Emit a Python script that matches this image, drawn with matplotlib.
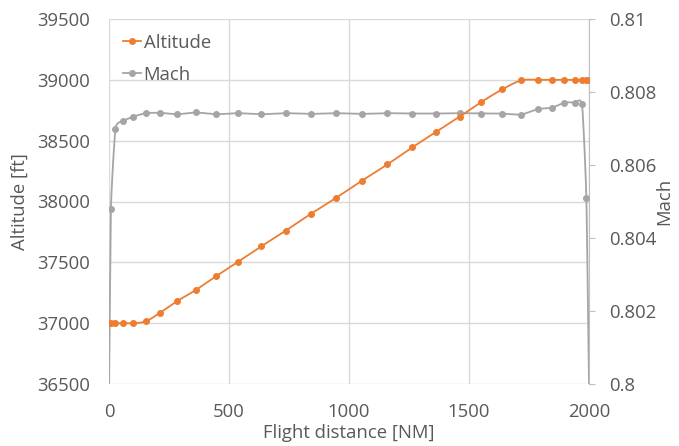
import numpy as np
import matplotlib
matplotlib.use("Agg")
import matplotlib.pyplot as plt
from matplotlib.lines import Line2D

distance = [0, 8, 27, 57, 99, 153, 213, 283, 361, 447, 536, 634, 736, 840, 947,
            1054, 1160, 1264, 1362, 1461, 1551, 1638, 1717, 1786, 1847, 1897,
            1940, 1971, 1989, 2000]
altitude = [37000, 37000, 37000, 37000, 37000, 37015, 37086, 37180, 37272, 37387,
            37502, 37631, 37760, 37897, 38031, 38171, 38305, 38445, 38571, 38697,
            38817, 38921, 38995, 39000, 39000, 39000, 39000, 39000, 39000, 39000]
mach = [0.8000, 0.8048, 0.8070, 0.8072, 0.80732, 0.80742, 0.80743, 0.80739,
        0.80744, 0.80739, 0.80742, 0.80739, 0.80742, 0.80740, 0.80742, 0.80740,
        0.80742, 0.80741, 0.80741, 0.80742, 0.80741, 0.80741, 0.80738, 0.80753,
        0.80757, 0.80771, 0.80771, 0.80766, 0.8051, 0.8000]

x_ticks = [0, 500, 1000, 1500, 2000]
alt_ticks = [36500, 37000, 37500, 38000, 38500, 39000, 39500]
mach_ticks = [0.800, 0.802, 0.804, 0.806, 0.808, 0.810]
mach_labels = ["0.8", "0.802", "0.804", "0.806", "0.808", "0.81"]

ORANGE = "#ED7D31"
GREY = "#A5A5A5"
TXT = "#595959"
GRID = "#D9D9D9"

plt.rcParams['font.family'] = ['Open Sans', 'DejaVu Sans']
FS = 13.3


def smooth(xs, ys, n=24, k=6.0):
    """Excel-like smoothed line (Bezier through the points), in data space."""
    xs = np.asarray(xs, float); ys = np.asarray(ys, float)
    px = np.concatenate([[xs[0]], xs, [xs[-1]]])
    py = np.concatenate([[ys[0]], ys, [ys[-1]]])
    ox, oy = [], []
    t = np.linspace(0, 1, n, endpoint=False)
    for i in range(1, len(px) - 2):
        p0x, p1x, p2x, p3x = px[i-1], px[i], px[i+1], px[i+2]
        p0y, p1y, p2y, p3y = py[i-1], py[i], py[i+1], py[i+2]
        c1x = p1x + (p2x - p0x) / k; c1y = p1y + (p2y - p0y) / k
        c2x = p2x - (p3x - p1x) / k; c2y = p2y - (p3y - p1y) / k
        bx = (1-t)**3*p1x + 3*(1-t)**2*t*c1x + 3*(1-t)*t**2*c2x + t**3*p2x
        by = (1-t)**3*p1y + 3*(1-t)**2*t*c1y + 3*(1-t)*t**2*c2y + t**3*p2y
        ox.extend(bx); oy.extend(by)
    ox.append(xs[-1]); oy.append(ys[-1])
    return np.array(ox), np.array(oy)


fig = plt.figure(figsize=(6.79, 4.46), dpi=100)
rect = [109/679, 1-384/446, 480/679, 365/446]

# background axes holding only the grid
ax_bg = fig.add_axes(rect)
ax_bg.set_xlim(0, 2000)
ax_bg.set_ylim(36500, 39500)
ax_bg.set_xticks(x_ticks)
ax_bg.set_yticks(alt_ticks)
ax_bg.grid(True, color=GRID, linewidth=1)
ax_bg.tick_params(length=0, labelleft=False, labelbottom=False)
for s in ax_bg.spines.values():
    s.set_visible(False)
ax_bg.set_zorder(0)

# main axes (altitude, left) and twin (Mach, right)
ax = fig.add_axes(rect)
ax2 = ax.twinx()
ax.set_zorder(2)
ax2.set_zorder(1)
ax.patch.set_visible(False)
ax2.patch.set_visible(False)

ax.set_xlim(0, 2000)
ax.set_ylim(36500, 39500)
ax2.set_ylim(0.800, 0.810)

ax.set_xticks(x_ticks)
ax.set_yticks(alt_ticks)
ax2.set_yticks(mach_ticks)
ax2.set_yticklabels(mach_labels)

for a in (ax, ax2):
    for s in a.spines.values():
        s.set_visible(False)
ax2.spines['right'].set_visible(True)
ax2.spines['right'].set_color("#BFBFBF")

ax.tick_params(axis='both', length=0, labelsize=FS, labelcolor=TXT)
ax.tick_params(axis='y', pad=13.5)
ax.tick_params(axis='x', pad=14)
ax2.tick_params(axis='y', length=4.5, color="#BFBFBF", labelsize=FS,
                labelcolor=TXT, pad=10)

# Mach series (right axis)
mx, my = smooth(distance, mach, k=12.0)
ax2.plot(mx, my, color=GREY, linewidth=1.3, zorder=3)
ax2.plot(distance, mach, linestyle='none', marker='o', markersize=4,
         color=GREY, zorder=4, markevery=slice(1, len(distance) - 1))

# Altitude series (left axis, on top)
sx, sy = smooth(distance, altitude)
ax.plot(sx, sy, color=ORANGE, linewidth=1.3, zorder=3)
ax.plot(distance, altitude, linestyle='none', marker='o', markersize=4,
        color=ORANGE, zorder=4)

ax.set_xlabel("Flight distance [NM]", fontsize=FS, color=TXT, labelpad=2)
ax.set_ylabel("Altitude [ft]", fontsize=FS, color=TXT, labelpad=6)
ax2.set_ylabel("Mach", fontsize=FS, color=TXT, labelpad=-1)

handles = [Line2D([], [], color=ORANGE, marker='o', markersize=4, linewidth=1.3),
           Line2D([], [], color=GREY, marker='o', markersize=4, linewidth=1.3)]
ax.legend(handles, ["Altitude", "Mach"], loc='upper left',
          bbox_to_anchor=(-0.005, 1.005), frameon=False, fontsize=FS,
          handlelength=0.95, handletextpad=0.15, labelspacing=0.75,
          labelcolor=TXT)

fig.savefig("out.png", dpi=100)
